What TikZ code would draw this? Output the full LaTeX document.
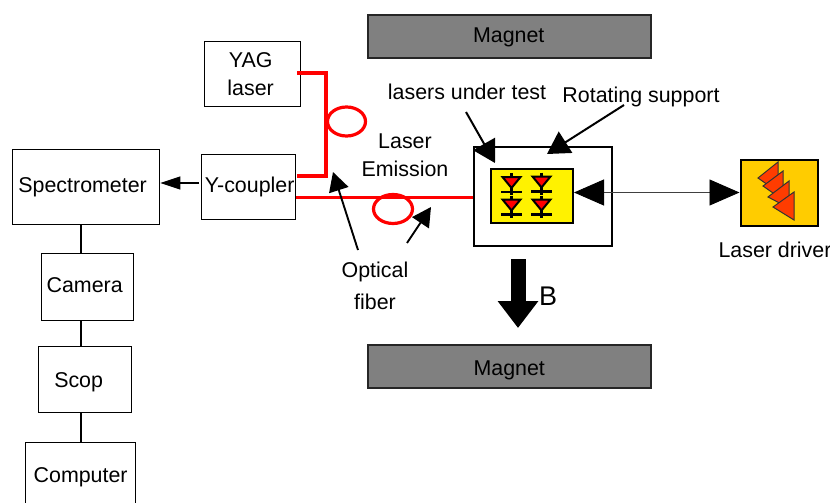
\documentclass[tikz,border=0pt]{standalone}
\usepackage{fontspec}
\setmainfont{Liberation Sans}
\usetikzlibrary{arrows.meta,shapes.geometric}
\definecolor{magnetgray}{RGB}{128,128,128}
\definecolor{driverorange}{RGB}{255,204,0}
\definecolor{triorange}{RGB}{255,60,0}
\newcommand\tweak[3]{\makebox[0pt]{\hspace*{#1}\raisebox{#2}[\height][\depth]{#3}}}
\tikzset{
  lab/.style={font=\fontsize{21.4}{28}\selectfont,align=center,inner sep=0pt},
  boxn/.style={lab,draw=black,line width=1.3pt,minimum width=#1,anchor=north west},
  magnetbox/.style={lab,draw=black!85,line width=1.5pt,fill=magnetgray,minimum width=283pt,minimum height=43pt,anchor=north west},
  fiber/.style={draw=red,line width=3.4pt},
  loopn/.style={draw=red,line width=3.2pt,ellipse,inner sep=0pt},
  thin link/.style={draw=black,line width=1.1pt},
  callout/.style={draw=black,line width=2pt,-{Triangle[length=22pt,width=25pt]}},
  smallcallout/.style={draw=black,line width=1.9pt,-{Triangle[length=19pt,width=20pt]}},
  dtri/.style={draw=black,line width=2pt,fill=red},
  dbar/.style={draw=black,line width=2.4pt},
  ftri/.style={draw=black!80,line width=1pt,fill=triorange},
}
\begin{document}
\begin{tikzpicture}[x=1pt,y=-1pt]
\useasboundingbox (0,0) rectangle (830,503);
% magnets
\node[magnetbox] (m1) at (367,14.5) {\tweak{-1pt}{-1pt}{Magnet}};
\node[magnetbox] (m2) at (367,344) {\tweak{0pt}{-4pt}{Magnet}};
% boxes
\node[boxn=96pt,minimum height=65pt] (yag) at (204,41) {\tweak{-4pt}{0pt}{YAG}\\\tweak{-4pt}{0pt}{laser}};
\node[boxn=147pt,minimum height=75pt] (spec) at (12,149) {\tweak{-7pt}{0pt}{Spectrometer}};
\node[boxn=94pt,minimum height=65pt] (coup) at (201,154) {\tweak{2pt}{0pt}{Y-coupler}};
\node[boxn=92pt,minimum height=67pt] (cam) at (41,253) {\tweak{-6pt}{2.5pt}{Camera}};
\node[boxn=93pt,minimum height=66pt] (scop) at (38,346) {\tweak{-13pt}{-2.5pt}{Scop}};
\node[boxn=110pt,minimum height=70pt] (comp) at (25,442) {Computer};
% support
\node[draw=black,line width=2pt,minimum width=138pt,minimum height=99pt,anchor=north west,inner sep=0pt] (sup) at (473,145.5) {};
\node[draw=black,line width=2pt,fill=yellow,minimum width=82pt,minimum height=54pt,anchor=north west,inner sep=0pt] (chip) at (490,168) {};
% diodes
\foreach \x/\y in {511.5/177,541.5/176.5,511.5/199.5,541.5/199.5}{
  \draw[dbar] (\x,\y-4) -- (\x,\y+18);
  \draw[dtri] (\x-9,\y) -- (\x+9,\y) -- (\x,\y+11) -- cycle;
  \draw[dbar] (\x-10.5,\y+15) -- (\x+10.5,\y+15);
}
% driver
\node[draw=black,line width=2pt,fill=driverorange,minimum width=77pt,minimum height=66pt,anchor=north west,inner sep=0pt] (drv) at (739.5,158.5) {};
\draw[ftri] (778,162) -- (758,178) -- (778,192) -- cycle;
\draw[ftri] (783,171) -- (763,186) -- (783,200) -- cycle;
\draw[ftri] (789,181) -- (768,197) -- (789,208) -- cycle;
\draw[ftri] (794,192) -- (773,207) -- (794,220) -- cycle;
% labels
\node[lab] (lut) at (467,92) {lasers under test};
\node[lab] (rot) at (641,97) {Rotating support};
\node[lab] (emi) at (405,155) {Laser\\Emission};
\node[lab,font=\fontsize{21.4}{32}\selectfont] (opt) at (375,286) {Optical\\fiber};
\node[lab] (ld) at (775,250) {Laser driver};
% fibres
\coordinate (f1) at (297,73);
\coordinate (f2) at (326,73);
\coordinate (f3) at (326,176);
\coordinate (f4) at (297,176);
\draw[fiber,line join=miter] (f1) -- (f2) -- (f3) -- (f4);
\coordinate (fy) at (0,197);
\draw[fiber,line width=3pt] (coup.east |- fy) -- (sup.west |- fy);
\node[loopn,minimum width=38pt,minimum height=29pt] (loop1) at (346.5,121.5) {};
\node[loopn,minimum width=39pt,minimum height=29pt] (loop2) at (393,209) {};
% thin links
\draw[thin link] (81,224) -- (cam.north -| 81,224);
\draw[thin link] (81,320) -- (scop.north -| 81,320);
\draw[thin link] (81,412) -- (comp.north -| 81,412);
\coordinate (ay) at (0,183);
\draw[draw=black,line width=1.1pt,-{Triangle[length=20pt,width=13pt]}] (coup.west |- ay) ++(-2,0) -- (spec.east |- ay);
% double arrow
\coordinate (dy) at (0,192.5);
\draw[line width=.9pt,draw=black!75,{Triangle[length=30pt,width=26pt,color=black]}-{Triangle[length=30pt,width=26pt,color=black]}] (chip.east |- dy) -- (drv.west |- dy);
% callouts
\coordinate (c1a) at (466,112); \coordinate (c1b) at (495,163);
\draw[callout] (c1a) -- (c1b);
\coordinate (c2a) at (624,105); \coordinate (c2b) at (547,154);
\draw[callout] (c2a) -- (c2b);
\coordinate (c3a) at (358,250); \coordinate (c3b) at (333,172);
\draw[smallcallout] (c3a) -- (c3b);
\coordinate (c4a) at (407,243); \coordinate (c4b) at (431,207);
\draw[smallcallout] (c4a) -- (c4b);
% B arrow
\coordinate (b1) at (518,259); \coordinate (b2) at (518,328);
\draw[draw=black,line width=15pt,-{Triangle[length=27pt,width=39pt]}] (b1) -- (b2);
\node[lab,font=\fontsize{27}{30}\selectfont] (blab) at (548,296) {B};
\end{tikzpicture}
\end{document}
